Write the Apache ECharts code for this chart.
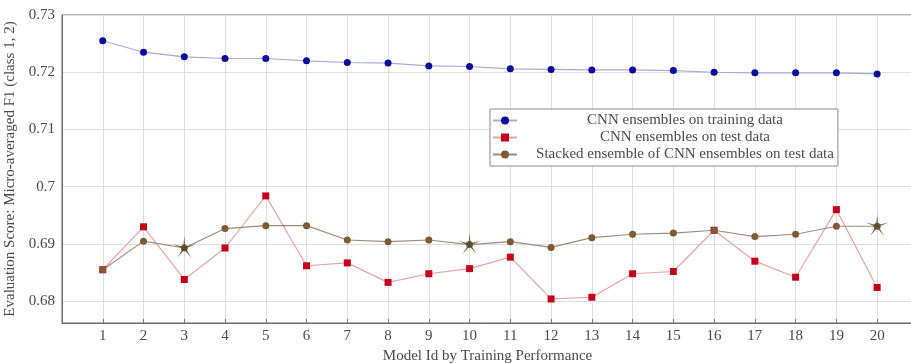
<!DOCTYPE html>
<html>
<head>
<meta charset="utf-8">
<script src="https://cdn.jsdelivr.net/npm/echarts@6/dist/echarts.min.js"></script>
<style>
  html, body { margin: 0; padding: 0; background: #fff; }
  #main { width: 911px; height: 364px; }
</style>
</head>
<body>
<div id="main"></div>
<script>
// values
var modelIds = [1, 2, 3, 4, 5, 6, 7, 8, 9, 10, 11, 12, 13, 14, 15, 16, 17, 18, 19, 20];
var trainScores = [0.7255, 0.7235, 0.7227, 0.7224, 0.7224, 0.7220, 0.7217, 0.7216, 0.7211, 0.7210,
                   0.7206, 0.7205, 0.7204, 0.7204, 0.7203, 0.7200, 0.7199, 0.7199, 0.7199, 0.7197];
var testScores = [0.6855, 0.6930, 0.6838, 0.6893, 0.6984, 0.6862, 0.6867, 0.6833, 0.6848, 0.6857,
                  0.6877, 0.6804, 0.6807, 0.6848, 0.6852, 0.6924, 0.6870, 0.6842, 0.6960, 0.6824];
var stackedScores = [0.6855, 0.6905, 0.6893, 0.6927, 0.6932, 0.6932, 0.6907, 0.6904, 0.6907, 0.6899,
                     0.6904, 0.6894, 0.6911, 0.6917, 0.6919, 0.6924, 0.6913, 0.6917, 0.6931, 0.6931];
var starIds = [3, 10, 20];
var seriesNames = ['CNN ensembles on training data', 'CNN ensembles on test data',
                   'Stacked ensemble of CNN ensembles on test data'];

function pairs(xs, ys) {
    return xs.map(function (x, i) { return [x, ys[i]]; });
}

// five-armed asterisk like the pgfplots "star" mark
function starPath() {
    var d = '', w = 4.5;
    for (var k = 0; k < 5; k++) {
        var a = -Math.PI / 2 + k * 2 * Math.PI / 5;
        var tx = 50 + 50 * Math.cos(a), ty = 50 + 50 * Math.sin(a);
        var px = -Math.sin(a) * w, py = Math.cos(a) * w;
        d += 'M' + (50 + px).toFixed(2) + ' ' + (50 + py).toFixed(2) +
             'L' + tx.toFixed(2) + ' ' + ty.toFixed(2) +
             'L' + (50 - px).toFixed(2) + ' ' + (50 - py).toFixed(2) + 'Z';
    }
    d += 'M50 100L50.01 100Z';
    return 'path://' + d;
}

var font = '"Liberation Serif", "DejaVu Serif", serif';
var textCol = '#4a4a4a';

var myChart = echarts.init(document.getElementById('main'));
var option = {
    animation: false,
    textStyle: { fontFamily: font },
    grid: {
        left: 62, right: -2, top: 15, bottom: 41,
        outerBoundsMode: 'none',
        containLabel: false,
        show: true, borderColor: '#6a6a6a', borderWidth: 1
    },
    legend: {
        data: seriesNames,
        orient: 'vertical',
        left: 490, top: 109,
        padding: [4, 4, 4, 2],
        itemGap: 2,
        itemWidth: 24, itemHeight: 10,
        backgroundColor: '#fff',
        borderColor: '#8a8a8a', borderWidth: 1,
        formatter: function (n) { return '{c|' + n + '}'; },
        textStyle: {
            color: textCol, fontFamily: font, fontSize: 15,
            rich: { c: { width: 326, align: 'center', fontFamily: font, fontSize: 15, color: textCol } }
        }
    },
    xAxis: {
        type: 'value',
        min: 0, max: 20.88, interval: 1,
        name: 'Model Id by Training Performance',
        nameLocation: 'middle', nameGap: 22,
        nameTextStyle: { fontSize: 15, color: textCol, fontFamily: font },
        axisLine: { show: true, lineStyle: { color: '#6a6a6a' } },
        axisTick: { show: true, inside: true, length: 4, lineStyle: { color: '#777' } },
        axisLabel: {
            fontSize: 15, color: textCol, margin: 6, fontFamily: font,
            formatter: function (v) { return (v >= 1 && v <= 20 && v === Math.round(v)) ? String(v) : ''; }
        },
        splitLine: { show: true, lineStyle: { color: '#dedede' } }
    },
    yAxis: {
        type: 'value',
        min: 0.6762, max: 0.73, splitNumber: 5,
        name: 'Evaluation Score: Micro-averaged F1 (class 1, 2)',
        nameLocation: 'middle', nameGap: 40,
        nameTextStyle: { fontSize: 15, color: textCol, fontFamily: font },
        axisLine: { show: true, lineStyle: { color: '#6a6a6a' } },
        axisTick: { show: false },
        axisLabel: {
            fontSize: 15, color: textCol, margin: 7, fontFamily: font,
            formatter: function (v) {
                var h = v * 100;
                return Math.abs(h - Math.round(h)) < 1e-6 ? String(+v.toFixed(2)) : '';
            }
        },
        splitLine: { show: true, lineStyle: { color: '#dedede' } }
    },
    series: [
        {
            name: seriesNames[0], type: 'line',
            data: pairs(modelIds, trainScores),
            symbol: 'circle', symbolSize: 7,
            itemStyle: { color: '#0c0c9c' },
            lineStyle: { color: '#a9a9d8', width: 1.2 }
        },
        {
            name: seriesNames[1], type: 'line',
            data: pairs(modelIds, testScores),
            symbol: 'rect', symbolSize: 7,
            itemStyle: { color: '#c4001c' },
            lineStyle: { color: '#e8a4a4', width: 1.2 }
        },
        {
            name: seriesNames[2], type: 'line',
            data: pairs(modelIds, stackedScores),
            symbol: 'circle', symbolSize: 7,
            itemStyle: { color: '#7f5a32' },
            lineStyle: { color: '#9c8c7c', width: 1.2 }
        },
        {
            name: 'best', type: 'scatter',
            data: starIds.map(function (id) { return [id, stackedScores[modelIds.indexOf(id)]]; }),
            symbol: starPath(), symbolSize: 24, symbolKeepAspect: true,
            itemStyle: { color: '#54462e' },
            z: 3
        }
    ]
};
myChart.setOption(option);
</script>
</body>
</html>
